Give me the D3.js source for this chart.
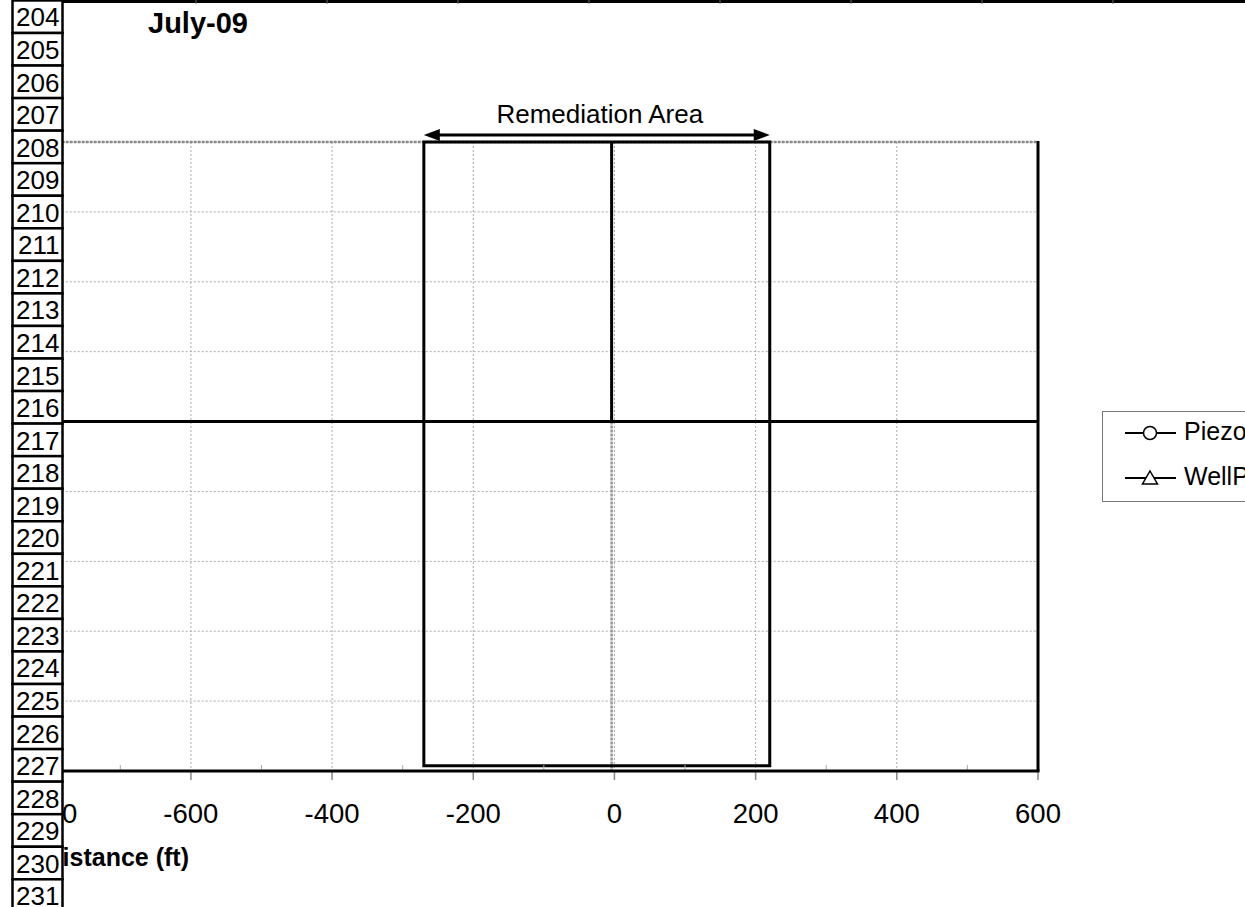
<!DOCTYPE html>
<html><head><meta charset="utf-8">
<script src="https://cdn.jsdelivr.net/npm/d3@7"></script>
<style>body{margin:0;background:#fff}svg{display:block}text{font-family:"Liberation Sans",Arial,sans-serif}</style>
</head><body><svg id="c" width="1245" height="907"></svg>
<script>
const title = "July-09";
const xTitle = "Distance (ft)";
const xTicks = [-800,-600,-400,-200,0,200,400,600];
const xMinorTicks = [-700,-500,-300,-100,100,300,500];
const yGridValues = [208,210,212,214,216,218,220,222,224,226];
const yCellLabels = [204,205,206,207,208,209,210,211,212,213,214,215,216,217,218,219,220,221,222,223,224,225,226,227,228,229,230,231];
const remediationX = [-270, 220];
const remediationY = [208, 225.85];
const remediationArrowY = 207.8;
const blackLineA_x = [-4, -4];   const blackLineA_y = [208, 216];
const blackLineB_x = [-800, 600]; const blackLineB_y = [216, 216];
const grayLineA_x = [-4, -4];    const grayLineA_y = [216, 226];
const grayLineB_x = [-800, 600]; const grayLineB_y = [208, 208];
const legendNames = ["Piezometer", "WellPoint"];
const legendSymbols = ["circle", "triangle"];

const svg = d3.select("#c");
svg.append("rect").attr("width",1245).attr("height",907).attr("fill","#fff");
const x = d3.scaleLinear().domain([-800,600]).range([49.7,1038]);
const y = d3.scaleLinear().domain([208,226]).range([142,771]);

// gridlines
svg.append("g").selectAll("line").data(yGridValues.slice(1,-1)).join("line")
  .attr("x1",x(-800)).attr("x2",x(600)).attr("y1",d=>y(d)).attr("y2",d=>y(d))
  .attr("stroke","#aaa").attr("stroke-width",1).attr("stroke-dasharray","2,2");
svg.append("g").selectAll("line").data(xTicks.slice(1,-1)).join("line")
  .attr("x1",d=>x(d)).attr("x2",d=>x(d)).attr("y1",y(208)).attr("y2",y(226))
  .attr("stroke","#aaa").attr("stroke-width",1).attr("stroke-dasharray","2,2");

const line = d3.line().x(d=>x(d[0])).y(d=>y(d[1]));
const zip = (a,b)=>a.map((v,i)=>[v,b[i]]);
svg.append("path").attr("d",line(zip(grayLineB_x,grayLineB_y))).attr("fill","none").attr("stroke","#888").attr("stroke-width",2.5).attr("stroke-dasharray","3,1");
svg.append("path").attr("d",line(zip(grayLineA_x,grayLineA_y))).attr("fill","none").attr("stroke","#999").attr("stroke-width",2.5).attr("stroke-dasharray","3,1");
svg.append("path").attr("d",line(zip(blackLineA_x,blackLineA_y))).attr("fill","none").attr("stroke","#000").attr("stroke-width",3);
svg.append("path").attr("d",line(zip(blackLineB_x,blackLineB_y))).attr("fill","none").attr("stroke","#000").attr("stroke-width",3);

// remediation box
svg.append("rect").attr("x",x(remediationX[0])).attr("y",y(remediationY[0]))
  .attr("width",x(remediationX[1])-x(remediationX[0])).attr("height",y(remediationY[1])-y(remediationY[0]))
  .attr("fill","none").attr("stroke","#000").attr("stroke-width",3);

// arrow
const ay = y(remediationArrowY), ax1 = x(remediationX[0]), ax2 = x(remediationX[1]);
svg.append("line").attr("x1",ax1+10).attr("x2",ax2-10).attr("y1",ay).attr("y2",ay).attr("stroke","#000").attr("stroke-width",3);
svg.append("path").attr("d",`M${ax1},${ay}L${ax1+16},${ay-6}L${ax1+16},${ay+6}Z`).attr("fill","#000");
svg.append("path").attr("d",`M${ax2},${ay}L${ax2-16},${ay-6}L${ax2-16},${ay+6}Z`).attr("fill","#000");
svg.append("text").attr("x",(ax1+ax2)/2+3).attr("y",123).attr("text-anchor","middle").attr("font-size",26).text("Remediation Area");

// axis
svg.append("g").selectAll("line").data(xMinorTicks).join("line")
  .attr("x1",d=>x(d)).attr("x2",d=>x(d)).attr("y1",y(226)-6).attr("y2",y(226))
  .attr("stroke","#aaa").attr("stroke-width",1);
svg.append("g").selectAll("line").data(xTicks).join("line")
  .attr("x1",d=>x(d)).attr("x2",d=>x(d)).attr("y1",y(226)).attr("y2",y(226)+9)
  .attr("stroke","#888").attr("stroke-width",1.5);
svg.append("line").attr("x1",x(-800)).attr("x2",x(600)+1.5).attr("y1",y(226)).attr("y2",y(226)).attr("stroke","#000").attr("stroke-width",3);
svg.append("line").attr("x1",x(600)).attr("x2",x(600)).attr("y1",y(208)-1).attr("y2",y(226)).attr("stroke","#000").attr("stroke-width",3);
svg.append("g").selectAll("text").data(xTicks).join("text")
  .attr("x",d=>x(d)).attr("y",823).attr("text-anchor","middle").attr("font-size",27.5).text(d=>d);
svg.append("text").attr("x",189).attr("y",866).attr("text-anchor","end").attr("font-size",25).attr("font-weight","bold").text(xTitle);
svg.append("text").attr("x",148).attr("y",33).attr("font-size",29).attr("font-weight","bold").text(title);

// top border line
svg.append("line").attr("x1",62).attr("x2",1245).attr("y1",1.5).attr("y2",1.5).attr("stroke","#000").attr("stroke-width",3);
svg.append("g").selectAll("line").data(d3.range(8)).join("line")
  .attr("x1",d=>196+131*d).attr("x2",d=>196+131*d).attr("y1",0).attr("y2",4).attr("stroke","#666").attr("stroke-width",1);

// legend
const lg = svg.append("g");
lg.append("rect").attr("x",1102.5).attr("y",411.5).attr("width",160).attr("height",90).attr("fill","#fff").attr("stroke","#777").attr("stroke-width",1);
legendNames.forEach((n,i)=>{
  const ly = 433 + i*45;
  lg.append("line").attr("x1",1125).attr("x2",1176).attr("y1",ly).attr("y2",ly).attr("stroke","#000").attr("stroke-width",2);
  if (legendSymbols[i]==="circle") {
    lg.append("circle").attr("cx",1150).attr("cy",ly).attr("r",6.5).attr("fill","#fff").attr("stroke","#000").attr("stroke-width",1.5);
  } else {
    lg.append("path").attr("d",`M1150,${ly-7}L1157.5,${ly+6}L1142.5,${ly+6}Z`).attr("fill","#fff").attr("stroke","#000").attr("stroke-width",1.5);
  }
  lg.append("text").attr("x",1184).attr("y",ly+7).attr("font-size",25).text(n);
});

// left label column
const cellH = 32.55;
const col = svg.append("g");
col.selectAll("rect").data(yCellLabels).join("rect")
  .attr("x",12.5).attr("y",(d,i)=>0.45+cellH*i).attr("width",50).attr("height",cellH)
  .attr("fill","#fff").attr("stroke","#000").attr("stroke-width",2.5);
col.selectAll("text").data(yCellLabels).join("text")
  .attr("x",59.5).attr("y",(d,i)=>0.45+cellH*i+26).attr("text-anchor","end").attr("font-size",26).text(d=>d);
</script></body></html>
